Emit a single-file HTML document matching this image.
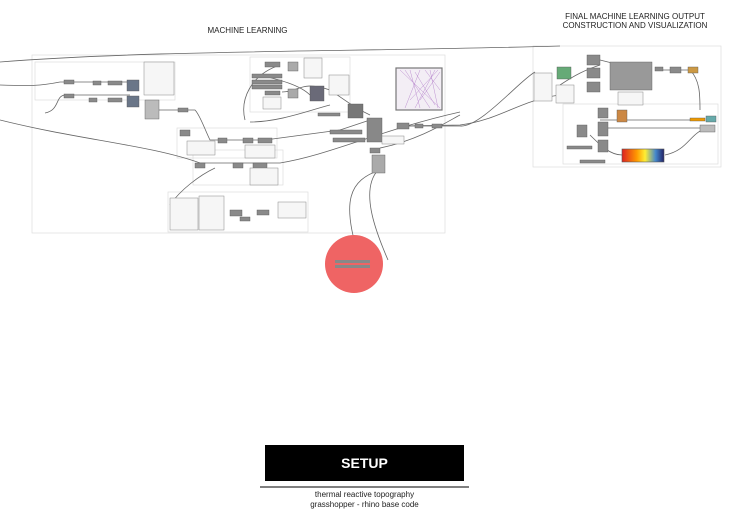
<!DOCTYPE html>
<html><head><meta charset="utf-8"><style>
body{margin:0;background:#fff;width:729px;height:519px;overflow:hidden;position:relative;font-family:"Liberation Sans",sans-serif}
.t{position:absolute;color:#222;font-size:7px;text-align:center}
</style></head><body>
<svg width="729" height="519" style="position:absolute;left:0;top:0">
<defs><linearGradient id="g" x1="0" x2="1"><stop offset="0" stop-color="#d22"/><stop offset=".35" stop-color="#f90"/><stop offset=".55" stop-color="#fe3"/><stop offset=".8" stop-color="#48c"/><stop offset="1" stop-color="#226"/></linearGradient></defs>
<g fill="none" stroke="#ddd" stroke-width="0.7">
<rect x="32" y="55" width="413" height="178"/>
<rect x="35" y="62" width="140" height="38"/>
<rect x="250" y="57" width="100" height="55"/>
<rect x="177" y="128" width="100" height="30"/>
<rect x="193" y="150" width="90" height="35"/>
<rect x="168" y="192" width="140" height="40"/>
<rect x="533" y="46" width="188" height="121"/>
<rect x="563" y="104" width="155" height="60"/>
</g>
<g fill="none" stroke="#666" stroke-width="0.8">
<path d="M0 62 C150 50 350 52 560 46"/>
<path d="M0 85 C30 86 40 86 60 82"/>
<path d="M0 120 C80 140 150 145 200 163"/>
<path d="M45 113 C60 110 55 96 65 95 L130 95"/>
<path d="M60 82 L130 82"/>
<path d="M155 110 L195 110 C200 115 205 130 210 140 L265 140 L340 130 L370 120"/>
<path d="M245 120 C240 100 250 75 280 65"/>
<path d="M260 75 C280 80 300 85 310 95"/>
<path d="M282 92 C300 92 300 80 330 90"/>
<path d="M330 90 C345 100 355 108 370 115"/>
<path d="M398 126 L460 126 C480 128 520 80 535 72"/>
<path d="M398 126 L460 125 C500 120 520 100 560 95"/>
<path d="M200 163 L280 163 C330 155 380 130 460 112"/>
<path d="M170 205 C180 190 200 175 215 168"/>
<path d="M380 170 C350 180 340 200 360 260"/>
<path d="M378 170 C360 190 375 230 388 260"/>
<path d="M250 122 C280 122 310 110 330 105"/>
<path d="M380 148 C420 140 450 120 460 115"/>
<path d="M600 60 L620 65"/><path d="M560 85 C575 75 585 70 600 65"/>
<path d="M660 70 L690 70 C700 80 700 95 700 110"/>
<path d="M600 120 L700 120"/><path d="M600 128 L700 128"/>
<path d="M665 155 C690 150 690 130 710 128"/>
<path d="M590 135 C600 145 610 155 622 155"/>
</g>
<g fill="#8a8a8a" stroke="#555" stroke-width="0.4">
<rect x="64" y="80" width="10" height="4"/><rect x="64" y="94" width="10" height="4"/>
<rect x="93" y="81" width="8" height="4"/><rect x="108" y="81" width="14" height="4"/>
<rect x="89" y="98" width="8" height="4"/><rect x="108" y="98" width="14" height="4"/>
<rect x="127" y="80" width="12" height="11" fill="#6a7688"/><rect x="127" y="96" width="12" height="11" fill="#6a7688"/>
<rect x="145" y="100" width="14" height="19" fill="#bbb"/>
<rect x="178" y="108" width="10" height="4"/>
<rect x="180" y="130" width="10" height="6"/>
<rect x="218" y="138" width="9" height="5"/><rect x="243" y="138" width="10" height="5"/><rect x="258" y="138" width="14" height="5"/>
<rect x="195" y="163" width="10" height="5"/><rect x="233" y="163" width="10" height="5"/><rect x="253" y="163" width="14" height="5"/>
<rect x="265" y="62" width="15" height="5"/><rect x="288" y="62" width="10" height="9" fill="#aaa"/>
<rect x="252" y="74" width="30" height="4"/><rect x="252" y="80" width="30" height="4"/><rect x="252" y="85" width="30" height="4"/>
<rect x="265" y="91" width="15" height="4"/><rect x="288" y="89" width="10" height="9" fill="#aaa"/>
<rect x="310" y="86" width="14" height="15" fill="#6a6a78"/>
<rect x="348" y="104" width="15" height="14" fill="#777"/>
<rect x="367" y="118" width="15" height="24" fill="#888"/>
<rect x="330" y="130" width="32" height="4"/><rect x="333" y="138" width="32" height="4"/>
<rect x="318" y="113" width="22" height="3"/>
<rect x="370" y="148" width="10" height="5"/><rect x="372" y="155" width="13" height="18" fill="#aaa"/>
<rect x="397" y="123" width="12" height="6"/><rect x="415" y="124" width="8" height="4"/><rect x="432" y="124" width="10" height="4"/>
<rect x="230" y="210" width="12" height="6"/><rect x="240" y="217" width="10" height="4"/><rect x="257" y="210" width="12" height="5"/>
<rect x="557" y="67" width="14" height="12" fill="#6a7"/>
<rect x="587" y="55" width="13" height="10"/><rect x="587" y="68" width="13" height="10"/><rect x="587" y="82" width="13" height="10"/>
<rect x="610" y="62" width="42" height="28" fill="#999"/>
<rect x="655" y="67" width="8" height="4"/><rect x="670" y="67" width="11" height="6"/><rect x="688" y="67" width="10" height="6" fill="#c94"/>
<rect x="577" y="125" width="10" height="12"/><rect x="598" y="122" width="10" height="14"/><rect x="598" y="140" width="10" height="12"/>
<rect x="598" y="108" width="10" height="10"/><rect x="617" y="110" width="10" height="12" fill="#c84"/>
<rect x="700" y="125" width="15" height="7" fill="#bbb"/><rect x="706" y="116" width="10" height="6" fill="#6aa"/>
<rect x="690" y="118" width="15" height="3" fill="#e90"/>
<rect x="567" y="146" width="25" height="3"/><rect x="580" y="160" width="25" height="3"/>
</g>
<g fill="#f6f6f6" stroke="#888" stroke-width="0.5">
<rect x="144" y="62" width="30" height="33"/><rect x="304" y="58" width="18" height="20"/><rect x="329" y="75" width="20" height="20"/>
<rect x="187" y="141" width="28" height="14"/><rect x="245" y="145" width="30" height="13"/>
<rect x="250" y="168" width="28" height="17"/><rect x="170" y="198" width="28" height="32"/><rect x="199" y="196" width="25" height="34"/>
<rect x="278" y="202" width="28" height="16"/><rect x="382" y="136" width="22" height="8"/><rect x="263" y="97" width="18" height="12"/>
<rect x="534" y="73" width="18" height="28"/><rect x="556" y="85" width="18" height="18"/><rect x="618" y="92" width="25" height="13"/>
</g>
<rect x="396" y="68" width="46" height="42" fill="#f3eef5" stroke="#777" stroke-width="1.2"/>
<g stroke="#b07ac8" stroke-width="0.5" opacity=".8">
<path d="M400 70 L440 108 M405 70 L430 108 M410 70 L420 108 M420 70 L405 108 M430 70 L438 108 M435 70 L415 108 M425 70 L440 90 M440 72 L420 100 M415 72 L435 105 M438 70 L410 100"/>
</g>
<rect x="622" y="149" width="42" height="13" fill="url(#g)" stroke="#555" stroke-width=".6"/>
<circle cx="354" cy="264" r="29" fill="#ef6464"/>
<rect x="335" y="260" width="35" height="3" fill="#888"/><rect x="335" y="265" width="35" height="3" fill="#888"/>
<rect x="265" y="445" width="199" height="36" fill="#000"/>
<line x1="260" y1="487" x2="469" y2="487" stroke="#000" stroke-width="1"/>
</svg>
<div class="t" style="left:180px;top:26px;width:135px;font-size:8px">MACHINE LEARNING</div>
<div class="t" style="left:540px;top:12px;width:190px;font-size:8px;line-height:9px">FINAL MACHINE LEARNING OUTPUT<br>CONSTRUCTION AND VISUALIZATION</div>
<div class="t" style="left:265px;top:455px;width:199px;color:#fff;font-size:14px;font-weight:bold">SETUP</div>
<div class="t" style="left:260px;top:490px;width:209px;font-size:8px;line-height:10px">thermal reactive topography<br>grasshopper - rhino base code</div>
</body></html>
